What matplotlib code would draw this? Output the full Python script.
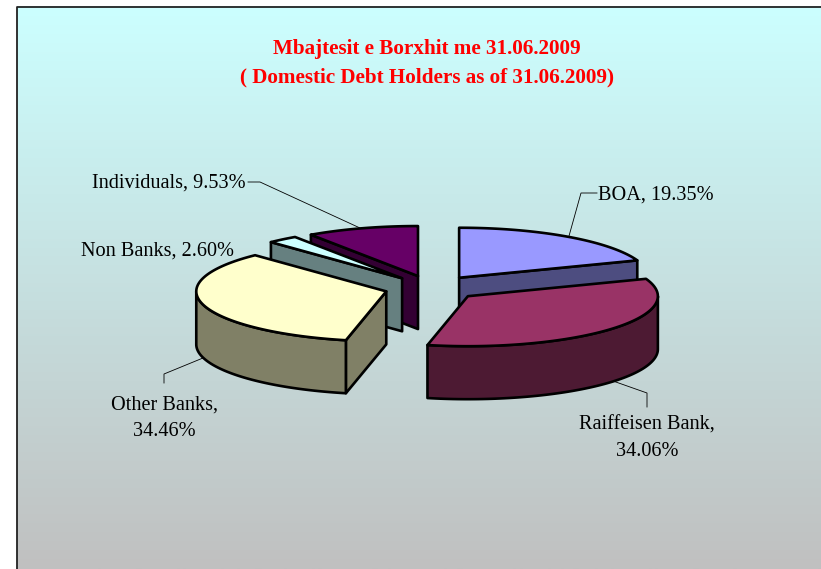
import matplotlib
matplotlib.use('Agg')
import matplotlib.pyplot as plt
from matplotlib.colors import LinearSegmentedColormap
from matplotlib.patches import Polygon
import numpy as np

plt.rcParams['font.family'] = ['Liberation Serif', 'DejaVu Serif']

# slices in clockwise order, starting from 12 o'clock
names = ['BOA', 'Raiffeisen Bank', 'Other Banks', 'Non Banks', 'Individuals']
shares = [19.35, 34.06, 34.46, 2.60, 9.53]
top_colors = ['#9999FF', '#993366', '#FFFFCC', '#CCFFFF', '#660066']
side_colors = ['#4D4D80', '#4D1A33', '#808066', '#668080', '#330033']

title_lines = ['Mbajtesit e Borxhit me 31.06.2009', '( Domestic Debt Holders as of 31.06.2009)']

CX, CY = 432, 288
RX, RY = 190, 50
DEPTH = 53
EXPLODE = 0.25
EDGE = 1.9

fig = plt.figure(figsize=(8.21, 5.69), dpi=100)
ax = fig.add_axes([0, 0, 1, 1])
ax.set_xlim(0, 821)
ax.set_ylim(569, 0)
ax.axis('off')

# background gradient
cmap = LinearSegmentedColormap.from_list('bg', ['#CCFFFF', '#C0C0C0'])
grad = np.linspace(0, 1, 256).reshape(-1, 1)
ax.imshow(grad, cmap=cmap, extent=[16.5, 821, 569, 6.5], aspect='auto', zorder=0)
ax.plot([16.5, 16.5, 821], [569, 6.5, 6.5], color='#222222', lw=1.3, zorder=1)
ax.set_xlim(0, 821)
ax.set_ylim(569, 0)


def arc(ox, oy, a0, a1, drop=0):
    t = np.radians(np.linspace(a0, a1, 80))
    return np.column_stack([ox + RX * np.sin(t), oy - RY * np.cos(t) + drop])


bounds = np.concatenate([[0], np.cumsum(shares)]) * 3.6
# back slices first so the front ones paint over them
order = [4, 3, 2, 0, 1]
z = 2
for i in order:
    a0, a1 = bounds[i], bounds[i + 1]
    mid = np.radians((a0 + a1) / 2)
    ox = CX + EXPLODE * RX * np.sin(mid)
    oy = CY - EXPLODE * RY * np.cos(mid)
    # cut faces, only the ones turned towards the viewer
    faces = []
    if np.sin(np.radians(a0)) < -1e-6:
        faces.append(a0)
    if np.sin(np.radians(a1)) > 1e-6:
        faces.append(a1)
    for a in faces:
        p = arc(ox, oy, a, a)[0]
        quad = [(ox, oy), p, (p[0], p[1] + DEPTH), (ox, oy + DEPTH)]
        ax.add_patch(Polygon(quad, fc=side_colors[i], ec='black', lw=EDGE, joinstyle='round', zorder=z))
        z += 1
    w0, w1 = max(a0, 90), min(a1, 270)
    if w1 > w0:
        upper = arc(ox, oy, w0, w1)
        lower = arc(ox, oy, w0, w1, DEPTH)[::-1]
        ax.add_patch(Polygon(np.vstack([upper, lower]), fc=side_colors[i], ec='black', lw=EDGE, joinstyle='round', zorder=z))
        z += 1
    top = np.vstack([[(ox, oy)], arc(ox, oy, a0, a1)])
    ax.add_patch(Polygon(top, fc=top_colors[i], ec='black', lw=EDGE, joinstyle='round', zorder=z))
    z += 1

# leader lines
leader_lines = [
    ([569, 581, 597], [236, 193, 193]),
    ([613, 647, 647], [381, 393, 407]),
    ([203, 164, 164], [358, 374, 383]),
    ([248, 260, 360], [182, 182, 228]),
]
for xs, ys in leader_lines:
    ax.plot(xs, ys, color='black', lw=0.6, zorder=1.5)

FS = 14.6
ax.text(598, 195, f'{names[0]}, {shares[0]:.2f}%', fontsize=FS, ha='left', va='center')
ax.text(647, 438.5, f'{names[1]},\n{shares[1]:.2f}%', fontsize=FS, ha='center', va='center', linespacing=1.55)
ax.text(164.5, 418.5, f'{names[2]},\n{shares[2]:.2f}%', fontsize=FS, ha='center', va='center', linespacing=1.55)
ax.text(234, 251, f'{names[3]}, {shares[3]:.2f}%', fontsize=FS, ha='right', va='center')
ax.text(246, 183, f'{names[4]}, {shares[4]:.2f}%', fontsize=FS, ha='right', va='center')

ax.text(426.5, 49, title_lines[0], color='red', fontsize=15.2, fontweight='bold', ha='center', va='center')
ax.text(426.5, 77, title_lines[1], color='red', fontsize=15.2, fontweight='bold', ha='center', va='center')

fig.savefig('out.png', dpi=100)
